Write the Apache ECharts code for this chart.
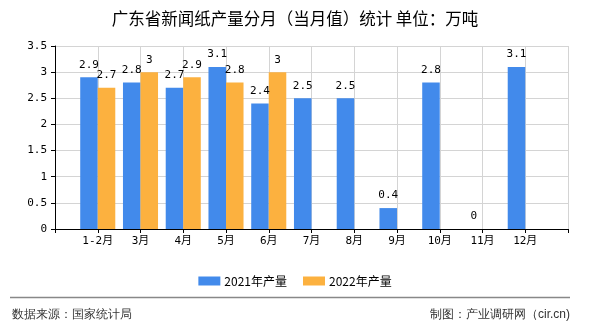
<!DOCTYPE html>
<html>
<head>
<meta charset="utf-8">
<script src="https://cdn.jsdelivr.net/npm/echarts@6/dist/echarts.min.js"></script>
<style>
html,body{margin:0;padding:0;background:#fff;}
#chart{width:590px;height:330px;}
</style>
</head>
<body>
<div id="chart"></div>
<script>
const titleText = '广东省新闻纸产量分月（当月值）统计 单位：万吨';
const categories = ['1-2月','3月','4月','5月','6月','7月','8月','9月','10月','11月','12月'];
const series2021 = [2.9, 2.8, 2.7, 3.1, 2.4, 2.5, 2.5, 0.4, 2.8, 0, 3.1];
const series2022 = [2.7, 3, 2.9, 2.8, 3, null, null, null, null, null, null];
const seriesNames = ['2021年产量', '2022年产量'];
const yTicks = { min: 0, max: 3.5, interval: 0.5 };
const sourceText = '数据来源：国家统计局';
const creditText = '制图：产业调研网（cir.cn)';

// padded axis: empty slot on each end (ticks sit on band edges in the original)
const axisData = [''].concat(categories, ['']);
const pad = arr => [null].concat(arr, [null]);

const monoFont = "'DejaVu Sans Mono','Noto Sans CJK SC',monospace";
const cjkFont = "'Noto Sans CJK SC','Noto Sans',sans-serif";

const chart = echarts.init(document.getElementById('chart'), null, {renderer: 'canvas'});
chart.setOption({
  animation: false,
  backgroundColor: '#ffffff',
  title: {
    text: titleText,
    left: 'center',
    top: 5,
    textStyle: { fontSize: 16.5, fontWeight: 'normal', color: '#000', fontFamily: cjkFont }
  },
  legend: {
    data: seriesNames,
    top: 270,
    left: 'center',
    icon: 'rect',
    itemWidth: 22,
    itemHeight: 9,
    itemGap: 16,
    textStyle: { fontSize: 12, color: '#000', fontFamily: cjkFont, padding: [0,0,0,-1] }
  },
  grid: { left: 55, right: 22, top: 46, bottom: 101, containLabel: false },
  xAxis: {
    type: 'category',
    data: axisData,
    boundaryGap: false,
    axisLine: { lineStyle: { color: '#000', width: 1 } },
    axisTick: { show: true, interval: 0, length: 4, lineStyle: { color: '#000' } },
    axisLabel: { interval: 0, color: '#000', fontSize: 11, fontFamily: monoFont, margin: 7 },
    splitLine: { show: true, interval: 0, lineStyle: { color: '#d4d4d4', width: 1 } }
  },
  yAxis: {
    type: 'value',
    min: yTicks.min,
    max: yTicks.max,
    interval: yTicks.interval,
    axisLine: { show: true, lineStyle: { color: '#000', width: 1 } },
    axisTick: { show: true, length: 4, lineStyle: { color: '#000' } },
    axisLabel: { color: '#000', fontSize: 11, fontFamily: monoFont, margin: 8 },
    splitLine: { show: true, lineStyle: { color: '#d4d4d4', width: 1 } }
  },
  series: [
    {
      name: seriesNames[0],
      type: 'bar',
      data: pad(series2021),
      barGap: '0%',
      barCategoryGap: '18%',
      itemStyle: { color: '#428AEB' },
      label: { show: true, position: 'top', distance: 7, color: '#000', fontSize: 11, fontFamily: monoFont }
    },
    {
      name: seriesNames[1],
      type: 'bar',
      data: pad(series2022),
      barGap: '0%',
      barCategoryGap: '18%',
      itemStyle: { color: '#FCB13F' },
      label: { show: true, position: 'top', distance: 7, color: '#000', fontSize: 11, fontFamily: monoFont }
    }
  ],
  graphic: [
    { type: 'line', shape: { x1: 10, y1: 297.5, x2: 570, y2: 297.5 }, style: { stroke: '#888', lineWidth: 1.5 } },
    { type: 'text', left: 12, top: 309, style: { text: sourceText, fontSize: 12, fill: '#333', font: "12px 'Noto Sans CJK SC',sans-serif" } },
    { type: 'text', right: 20, top: 309, style: { text: creditText, fontSize: 12, fill: '#333', font: "12px 'Noto Sans CJK SC',sans-serif" } }
  ]
});
</script>
</body>
</html>
